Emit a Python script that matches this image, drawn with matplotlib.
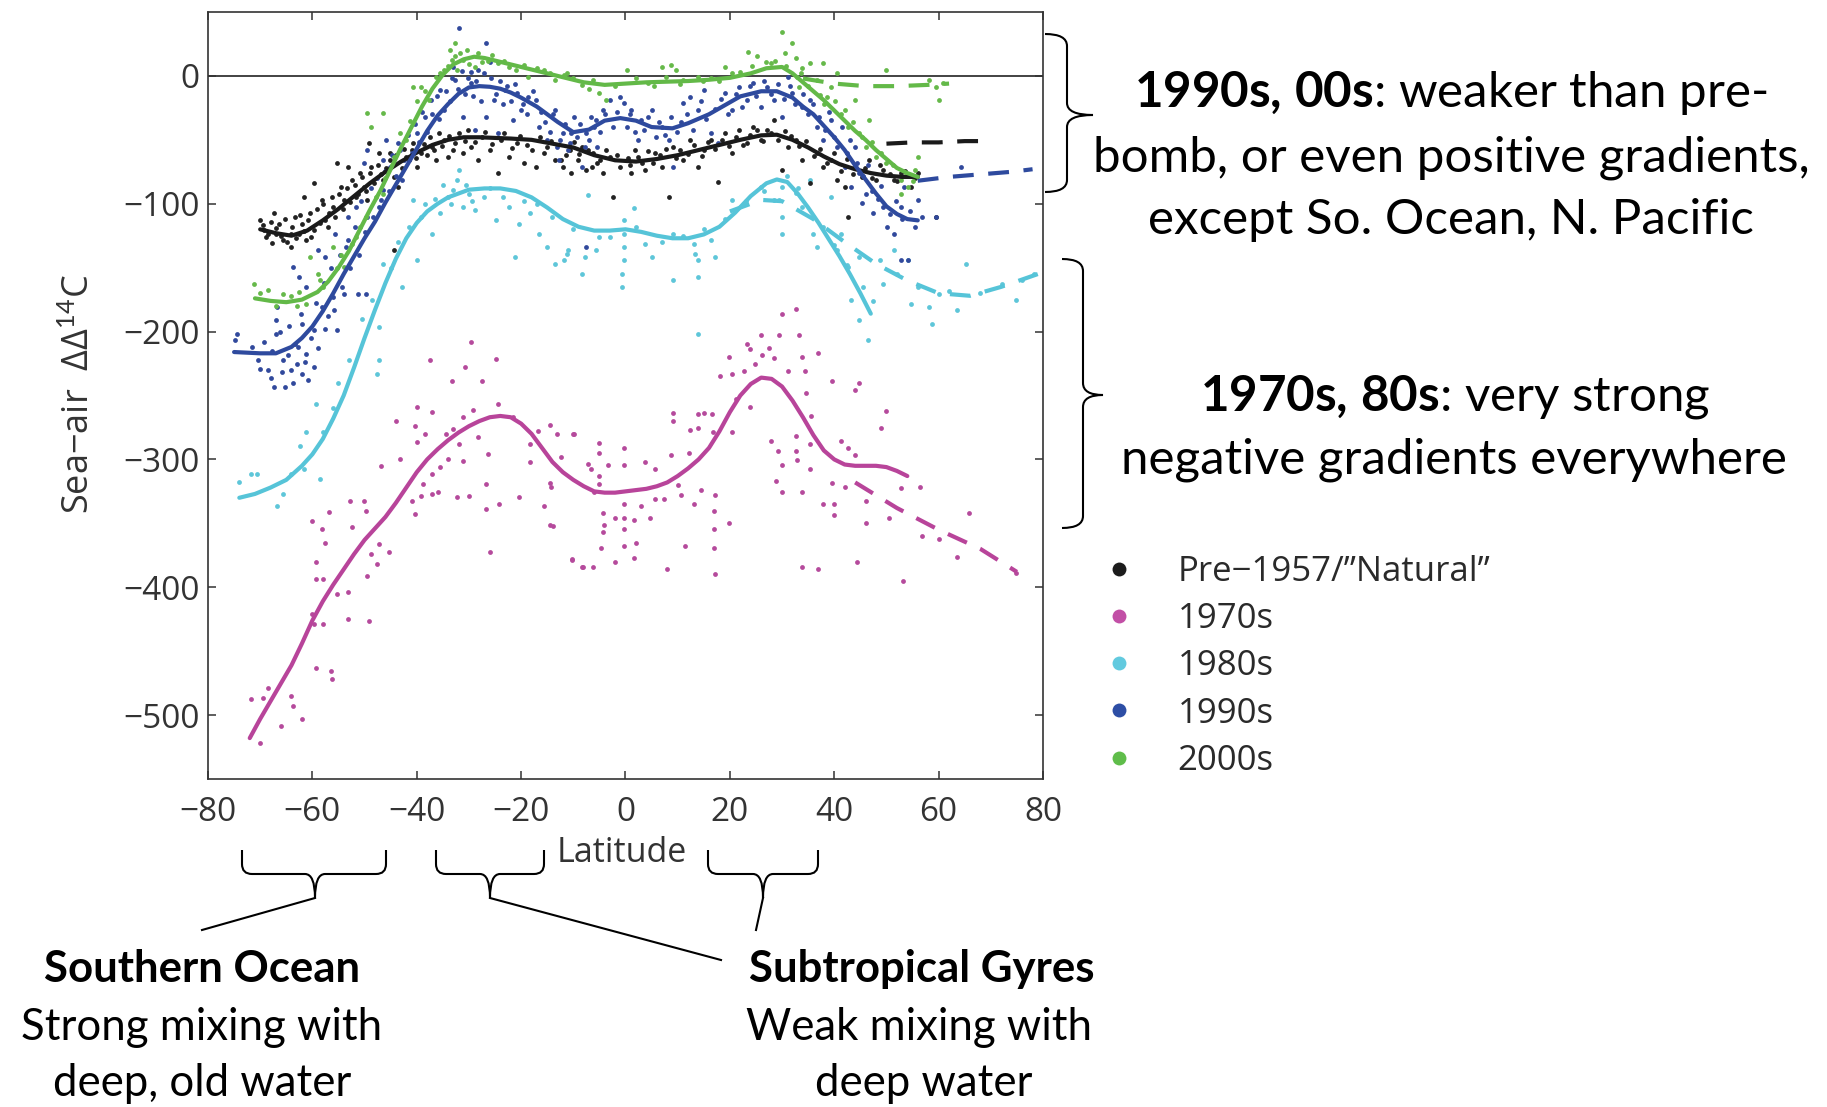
import numpy as np
import matplotlib
matplotlib.use("Agg")
import matplotlib.pyplot as plt
from matplotlib.path import Path
from matplotlib.patches import PathPatch
from matplotlib.lines import Line2D

plt.rcParams['mathtext.fontset'] = 'custom'
plt.rcParams['mathtext.rm'] = 'Lato'
plt.rcParams['mathtext.it'] = 'Lato:italic'
plt.rcParams['mathtext.bf'] = 'Lato:bold'

# ---------------- data ----------------
series_names = ['Pre\u22121957/\u201dNatural\u201d', '1970s', '1980s', '1990s', '2000s']
legend_colors = ['#1c1c1c', '#c24fa6', '#62cadf', '#2d4ea5', '#5fbd4a']
x_ticks = [-80, -60, -40, -20, 0, 20, 40, 60, 80]
y_ticks = [0, -100, -200, -300, -400, -500]

# smoothed curves (latitude, sea-air DD14C)
black_curve_lat = [-70, -67, -64, -61, -58, -55, -52, -49, -46, -43, -40, -37, -34, -31, -28, -25, -22, -18, -14,
                   -10, -6, -2, 2, 6, 10, 14, 18, 22, 26, 29, 32, 35, 38, 41, 44, 47, 50, 53, 56]
black_curve_val = [-120, -123, -125, -121, -113, -104, -94, -84, -75, -67, -60, -54, -50, -48, -48, -48.5, -49, -50,
                   -53, -56, -62, -66, -67, -65, -62, -58, -54, -50, -46.5, -46, -50, -56, -63, -69, -73, -76, -78,
                   -79, -79]
black_dash_lat = [50, 55, 60, 65, 70]
black_dash_val = [-53, -52, -52, -51, -51]

m70_curve_lat = [-72, -70, -68, -66, -64, -62, -60, -58, -56, -54, -52, -50, -48, -46, -44, -42, -40, -38, -36, -34,
                 -32, -30, -28, -26, -24, -22, -20, -18, -16, -14, -12, -10, -8, -6, -4, -2, 0, 2, 4, 6, 8, 10, 12,
                 14, 16, 18, 20, 22, 24, 26, 28, 30, 32, 34, 36, 38, 40, 42, 44, 46, 48, 50, 52, 54]
m70_curve_val = [-518, -503, -489, -475, -461, -444, -426, -411, -398, -386, -374, -363, -354, -345, -334, -322, -310,
                 -300, -292, -285, -279, -274, -270, -267, -266, -267, -272, -280, -291, -302, -310, -316, -321, -325,
                 -326, -326, -325, -324, -323, -321, -318, -313, -307, -300, -291, -278, -263, -250, -241, -236, -237,
                 -243, -254, -267, -281, -293, -300, -304, -305, -305, -305, -306, -309, -313]
m70_dash_lat = [44, 52, 60, 68, 75]
m70_dash_val = [-318, -338, -355, -370, -388]

c80_curve_lat = [-74, -71, -68, -65, -62, -60, -58, -56, -54, -52, -50, -48, -46, -44, -42, -40, -38, -36, -34, -32,
                 -30, -27, -24, -21, -18, -15, -12, -9, -6, -3, 0, 3, 6, 9, 12, 15, 18, 21, 24, 27, 29, 31, 33, 35,
                 37, 39, 41, 43, 45, 47]
c80_curve_val = [-330, -327, -322, -316, -305, -296, -284, -268, -250, -228, -205, -183, -162, -143, -127, -115, -106,
                 -100, -95, -92, -89, -88, -88, -90, -95, -103, -112, -118, -121, -121, -120, -122, -125, -127, -127,
                 -124, -118, -107, -94, -84, -81, -83, -92, -103, -115, -128, -141, -155, -170, -186]
c80_dash_lat = [20, 26, 30, 36, 42, 48, 54, 60, 66, 72, 79]
c80_dash_val = [-106, -97, -98, -112, -130, -147, -160, -170, -172, -165, -155]

b90_curve_lat = [-75, -70, -67, -64, -62, -60, -58, -56, -54, -52, -50, -48, -46, -44, -42, -40, -38, -36, -34, -32,
                 -30, -28, -26, -24, -22, -20, -17, -13, -10, -7, -4, -1, 2, 5, 9, 12, 16, 19, 22, 26, 29, 32, 34,
                 36, 38, 40, 42, 44, 46, 48, 50, 52, 54, 56]
b90_curve_val = [-216, -217, -217, -212, -205, -196, -184, -170, -155, -141, -127, -114, -99, -85, -71, -57, -43, -31,
                 -22, -14, -9, -8, -8.5, -10, -13, -17, -24, -36, -44, -42, -35, -33, -35, -40, -41, -37, -30, -23,
                 -16, -12, -12, -17, -24, -30, -39, -48, -58, -70, -81, -92, -102, -108, -112, -113]
b90_dash_lat = [56, 62, 68, 74, 78]
b90_dash_val = [-82, -79, -77, -75, -73]

g00_curve_lat = [-71, -68, -65, -62, -59, -57, -55, -53, -51, -49, -47, -45, -43, -41, -39, -37, -35, -33, -31, -29,
                 -27, -24, -20, -16, -12, -8, -4, 0, 4, 8, 12, 16, 20, 24, 27, 30, 32, 34, 36, 38, 40, 42, 44, 46,
                 48, 50, 52, 54, 56]
g00_curve_val = [-174, -176, -177, -175, -169, -161, -150, -137, -121, -105, -90, -73, -56, -40, -24, -10, 1, 9, 13,
                 15, 14, 11, 7, 3, -1, -5, -7, -6, -5, -4.5, -4, -3, -1.5, 2, 6, 7, 2, -5, -12, -19, -27, -35, -43,
                 -50, -58, -65, -72, -76, -79]
g00_dash_lat = [34, 40, 46, 52, 58, 62]
g00_dash_val = [-2, -6, -8, -8, -7, -6]

# observations (latitude, value)
black_pts = [(-70, -112.9), (-69.3, -120.7), (-68.5, -123.3), (-67.4, -107.6), (-67.05, -123.3), (-66.3, -115.5),
             (-65.6, -128.5), (-64.1, -123.3), (-64.1, -133.7), (-63.4, -110.3), (-62.6, -123.3), (-61.9, -115.5),
             (-61.55, -94.6), (-61.2, -128.5), (-60.45, -107.6), (-59.7, -84.1), (-59.7, -120.7), (-58.25, -97.2),
             (-57.5, -112.9), (-56.8, -107.6), (-56.05, -102.4), (-55.3, -68.4), (-54.6, -86.7), (-53.85, -97.2),
             (-53.1, -71.1), (-52.4, -81.5), (-51.65, -94.6), (-50.9, -76.3), (-50.2, -86.7), (-49.45, -97.2),
             (-49.1, -52.8), (-48.7, -71.1), (-47.25, -60.6), (-46.5, -81.5), (-45.05, -65.8), (-44.3, -78.9),
             (-44.3, -136.4), (-42.1, -63.2), (-40.65, -52.8), (-39.9, -71.1), (-39.2, -60.6), (-37, -55.4),
             (-36.3, -65.8), (-34.8, -50.2), (-34, -63.2), (-32.6, -52.8), (-31.9, -44.9), (-31.1, -60.6),
             (-29.6, -55.4), (-28.2, -65.8), (-27.45, -47.5), (-26, -58), (-24.5, -76.3), (-23.8, -50.2),
             (-22.3, -63.2), (-20.8, -52.8), (-19.4, -68.4), (-17.9, -58), (-17.2, -71.1), (-15, -55.4),
             (-13.5, -65.8), (-12.05, -71.1), (-10.6, -58), (-9.1, -65.8), (-7.65, -73.7), (-6.2, -60.6),
             (-5.45, -68.4), (-43.6, -86.7), (-12.45, -65.8), (-10.4, -76.3), (-8.4, -55.4), (-6.4, -71.1),
             (-4.4, -76.3), (-3.05, -63.2), (-2.4, -94.6), (-1, -71.1), (1, -76.3), (2.3, -63.2), (3.7, -73.7),
             (5.7, -60.6), (7.0, -71.1), (8.4, -94.6), (9.05, -55.4), (11.1, -65.8), (12.4, -50.2), (13.8, -71.1),
             (15.1, -58), (16.4, -50.2), (17.8, -82.8), (19.1, -44.9), (20.5, -60.6), (21.8, -42.3), (23.2, -52.8),
             (24.5, -39.7), (25.9, -50.2), (27.2, -42.3), (28.5, -34.5), (29.2, -50.2), (29.9, -73.7), (31.2, -55.4),
             (32.6, -50.2), (33.9, -65.8), (35.3, -84.1), (36.6, -60.6), (37.9, -71.1), (39.3, -65.8), (40.6, -81.5),
             (42, -86.7), (42.7, -110.3), (44, -71.1), (45.3, -78.9), (46.7, -65.8), (48, -81.5), (49.4, -73.7),
             (51.4, -81.5), (52.7, -76.3), (54.8, -86.7), (59.5, -110.3),
             (-69.5, -117), (-68.8, -126), (-68, -114), (-67.7, -131), (-66.9, -119), (-66, -125), (-65.3, -112),
             (-64.8, -130), (-63.9, -118), (-63.2, -127), (-62.3, -109), (-61.7, -121), (-60.9, -113), (-60.2, -126),
             (-59.2, -104), (-58.6, -115), (-57.9, -100), (-57.1, -118), (-56.3, -95), (-55.7, -110), (-54.9, -92),
             (-54.1, -104), (-53.4, -88), (-52.7, -99), (-51.9, -85), (-51.2, -92), (-50.5, -79), (-49.8, -90),
             (-48.9, -76), (-48.1, -84), (-47.5, -70), (-46.8, -77), (-45.9, -72), (-45.2, -60), (-44.6, -70),
             (-43.9, -62), (-42.9, -72), (-42.4, -57), (-41.5, -66), (-40.9, -58), (-40.2, -64), (-38.7, -53),
             (-38.1, -62), (-37.5, -48), (-36.7, -58), (-35.7, -45), (-35.1, -55), (-33.8, -47), (-33.1, -58),
             (-30.8, -51), (-30.2, -42), (-28.8, -52), (-27, -44), (-25.5, -53), (-23.2, -45), (-21.7, -56),
             (-20.2, -47), (-18.8, -54), (-16.4, -48), (-15.7, -60), (-14.2, -51), (-11.4, -62), (-9.8, -52),
             (-8.9, -61), (-7.2, -58), (-4.9, -66), (-3.8, -58), (-1.6, -62), (0.4, -64), (0.9, -70), (1.8, -58),
             (3.1, -68), (4.4, -59), (5.2, -68), (6.6, -62), (7.8, -57), (9.7, -64), (10.4, -58), (11.9, -61),
             (13.1, -54), (14.6, -63), (15.8, -52), (17.1, -57), (18.4, -50), (19.8, -55), (21.1, -48), (22.6, -54),
             (23.9, -46), (25.2, -42), (26.4, -51), (27.9, -45), (30.5, -43), (31.8, -47), (33.2, -55), (34.6, -51),
             (36.1, -63), (37.3, -57), (38.6, -68), (40, -60), (41.3, -74), (42.4, -65), (43.6, -77), (45.9, -72),
             (47.3, -80), (48.7, -70), (50.7, -77), (52.1, -82), (53.5, -74), (55.4, -80), (56, -76)]

m70_pts = [(-71.8, -487.7), (-69.4, -486.4), (-68.5, -478.6), (-70, -521.7), (-66, -508.6), (-64.1, -485),
           (-63.7, -493), (-61.9, -503.4), (-59.35, -462.9), (-56.4, -465.5), (-56.2, -472), (-59.7, -429),
           (-57.9, -429), (-60.1, -421), (-59.35, -393.7), (-57.9, -393.7), (-59.35, -380.6), (-58.25, -354.5),
           (-60.1, -348), (-57.5, -365), (-56.8, -341.4), (-55.3, -405.4), (-53.1, -404.1), (-53.1, -425),
           (-49.1, -426.3), (-52.7, -332.3), (-50.2, -332.3), (-52.5, -353.2), (-49.8, -340.1), (-49.6, -391),
           (-48.7, -374.1), (-47.6, -381.9), (-47.25, -366.2), (-46.9, -304.8), (-45.4, -372.8), (-43.2, -299.6),
           (-44, -269.6), (-41, -332.3), (-40.3, -342.7), (-39.9, -259.1), (-40.3, -273.5), (-39.9, -286.6),
           (-38.8, -319.2), (-39.2, -328.4), (-37, -327.1), (-35.9, -325.7), (-35.5, -306.1), (-37, -311.4),
           (-34.05, -299.6), (-37, -263), (-38.5, -280), (-34.4, -280), (-33, -276), (-32.2, -329.7), (-30, -328.4),
           (-31.1, -300.9), (-31.9, -287.9), (-31.1, -267), (-29.3, -261.7), (-28.2, -282.6), (-26.35, -295.7),
           (-26.7, -319.2), (-26.7, -338.8), (-26, -372.8), (-24.2, -334.9), (-24.5, -256.5), (-21.6, -267),
           (-20.5, -329.7), (-18.3, -287.9), (-18.3, -302.2), (-16.8, -277.4), (-15.7, -336.2), (-14.3, -321.8),
           (-13.9, -351.9), (-12.4, -298.3), (-9.85, -280), (-10.2, -378), (-8.4, -384.5), (-6.2, -384.5),
           (-6.6, -307.5), (-5.1, -319.2), (-14.5, -273.1), (-14.5, -318.4), (-13.1, -279.9), (-10.1, -279.9),
           (-14.5, -351.4), (-10.3, -378.9), (-8.1, -384.4), (-7.1, -303.3), (-5.1, -286.8), (-5.1, -295.1),
           (-3.4, -304.7), (-5.1, -312.9), (-6.1, -325.3), (-4.4, -341.8), (-4.05, -351.4), (-4.4, -356.9),
           (-4.7, -369.3), (-2.0, -345.9), (-2.0, -380.3), (-0.36, -291), (-0.2, -304.7), (-0.2, -335),
           (-0.2, -345.9), (-0.2, -354.2), (-0.36, -367.9), (1.66, -347.3), (2.0, -365.2), (1.66, -377.5),
           (3.7, -302), (4.7, -345.9), (3.0, -336.3), (5.7, -330.8), (5.7, -307.4), (7.4, -330.8), (8.0, -385.8),
           (8.7, -296.4), (9.05, -263.5), (9.05, -270.3), (10.06, -319.8), (10.7, -328.1), (11.4, -367.9),
           (12.1, -295.1), (12.4, -277.2), (13.8, -275.8), (13.8, -264.8), (15.1, -263.5), (13.1, -334.9),
           (14.4, -323.9), (16.5, -264.8), (16.8, -278.6), (17.1, -328.1), (17.0, -340.4), (17.0, -354.2),
           (17.0, -369.3), (17.1, -389.9), (19.8, -350), (18.1, -234.6), (19.8, -219.5), (20.5, -233.2),
           (21.1, -252.5), (20.5, -278.6), (23.2, -209.9), (22.8, -230.5), (23.8, -214), (24.8, -225), (25.9, -203),
           (26.2, -218.1), (27.5, -212.6), (28.5, -220.9), (29.9, -186.5), (29.5, -203), (32.6, -182.4),
           (31.2, -230.5), (33.2, -203), (33.9, -219.5), (34.3, -230.5), (34.6, -248.3), (35.6, -266.2),
           (36.9, -216.7), (23.8, -259.3), (27.9, -285.5), (29.2, -293.7), (29.9, -304.7), (28.9, -317),
           (29.9, -325.3), (32.6, -293.7), (32.9, -300.6), (32.6, -281.3), (33.9, -325.3), (35.3, -307.4),
           (35.3, -288.2), (33.9, -384.4), (36.9, -385.8), (37.9, -334.9), (39.6, -318.4), (39.9, -334.9),
           (39.9, -343.2), (39.6, -238.7), (41.3, -285.5), (42.7, -291), (44, -296.4), (44, -245.6), (44.7, -240.1),
           (42, -321.2), (44.3, -380.3), (46, -350), (46, -332.2), (49.0, -275.8), (50.0, -262.1), (50.4, -345.9),
           (52.7, -322.6), (53.1, -395.4), (56.4, -321.2), (56.8, -359.7), (60.1, -362.4), (63.5, -376.2),
           (65.8, -341.8), (74.9, -388.5), (-29.6, -208), (-37.4, -222.6), (-24.9, -221.3), (-30.7, -227.8),
           (-33.3, -238.3), (-27.45, -238.3)]

c80_pts = [(-11.8, -144.2), (-11.1, -136.4), (-7.8, -141.6), (-5.7, -136.4), (-5.1, -125.9), (-7.1, -93.3),
           (-0.36, -112.9), (-0.36, -123.3), (-0.36, -133.7), (-0.36, -144.2), (-0.7, -154.6), (-0.7, -165.1),
           (3.7, -131.1), (5.0, -141.6), (1.7, -103.7), (9.05, -159.9), (9.05, -123.3), (13.1, -131.1),
           (13.8, -144.2), (13.8, -157.3), (13.4, -139), (16.4, -128.5), (17.1, -141.6), (13.8, -201.7),
           (20.5, -97.2), (25.9, -86.7), (28.5, -97.2), (29.5, -97.2), (29.9, -110.3), (29.9, -123.3), (29.9, -86.7),
           (32.6, -91.9), (33.9, -102.4), (35.9, -110.3), (35.9, -123.3), (36.6, -133.7), (39.3, -94.6),
           (35.3, -81.5), (40.6, -136.4), (41.3, -123.3), (42.7, -149.4), (44.7, -141.6), (43.3, -175.5),
           (44.7, -191.2), (46.4, -206.9), (48.7, -144.2), (49.4, -162.5), (51.4, -136.4), (54.1, -144.2),
           (54.8, -178.2), (58.1, -180.8), (58.8, -193.8), (60.1, -170.3), (63.5, -183.4), (65.2, -146.8),
           (74.9, -175.5), (78.3, -154.6), (72.2, -162.5), (-47.3, -222.6), (-47.6, -233), (-47.3, -196.4),
           (-46.5, -146.8), (-42.9, -165.1), (-39.9, -144.2), (-40.7, -97.2), (-39.2, -110.3), (-37, -123.3),
           (-35.5, -107.6), (-34.05, -94.6), (-33, -89.3), (-32.2, -81.5), (-31.9, -73.7), (-31.1, -102.4),
           (-30, -92), (-28.9, -105), (-27.1, -94.6), (-24.9, -112.9), (-22.3, -102.4), (-20.5, -115.5),
           (-18.3, -107.6), (-16.5, -123.3), (-15, -133.7), (-13.5, -146.8), (-11.3, -139), (-8.4, -154.6),
           (-21.2, -141.6), (-74, -317.9), (-71.8, -311.4), (-70.7, -311.4), (-66.7, -336.2), (-65.6, -327.1),
           (-64.1, -311.4), (-61.6, -307.5), (-62.3, -289.2), (-61.2, -278.7), (-59.35, -256.5), (-58.6, -315.3),
           (-57.9, -278.7),
           (-56, -260), (-55, -240), (-53, -222), (-50.5, -190), (-48.5, -175), (-45, -150), (-43.5, -130),
           (-41.5, -118), (-38.5, -100), (-36.5, -96), (-35, -85), (-33.5, -100), (-30.5, -85), (-29.5, -98),
           (-26, -88), (-23.5, -95), (-19.5, -98), (-17, -100), (-14, -110), (-10, -120), (-3, -126), (2, -118),
           (7, -130), (11, -125), (15, -120), (19, -112), (23, -98), (26.5, -90), (31, -78), (33, -88),
           (37.8, -118), (40, -132), (42.5, -148), (45.5, -165), (47.5, -176), (52, -155), (56, -165), (62, -168),
           (68, -170), (76, -160)]

b90_pts = [(-74.75, -206.9), (-74.4, -201.7), (-70, -229.1), (-68.5, -230.4), (-67.4, -243.5), (-67.05, -191.2),
           (-67.05, -201.7), (-66.7, -180.8), (-65.6, -222.6), (-65.2, -243.5), (-64.1, -230.4), (-63.4, -209.5),
           (-63, -225.2), (-61.9, -233), (-61.2, -217.3), (-61.9, -193.8), (-60.8, -238.2), (-59.7, -227.8),
           (-59.7, -199.1), (-57.5, -197.8), (-58.25, -180.8), (-56.05, -172.9), (-55.3, -199.1), (-53.85, -170.3),
           (-51.3, -170.3), (-49.8, -170.3), (-63.75, -149.4), (-62.6, -157.3), (-61.2, -165.1), (-57.5, -141.6),
           (-55.7, -123.3), (-59, -136.4), (-53.5, -133.7), (-51.65, -102.4), (-53.1, -110.3), (-49.45, -110.3),
           (-47.25, -102.4), (-46.5, -89.3), (-50.2, -68.4), (-49.45, -58), (-46.5, -65.8), (-45.05, -71.1),
           (-42.85, -81.5), (-45.8, -50.2), (-43.6, -52.8), (-39.9, -44.9), (-38.45, -31.9), (-37.35, -18.8),
           (-34.8, -26.6), (-35.5, -11), (-32.6, -3.1), (-33, 7.3), (-31.9, 37.4), (-29.65, 3.4), (-29.65, -5.7),
           (-28.2, 4.7), (-26.7, 25.6), (-26, 11.2), (-25.25, -18.8), (-26.7, -31.9), (-31.1, -31.9), (-28.9, -42.3),
           (-24.5, -44.9), (-21.6, -34.5), (-20.1, -26.6), (-18.65, -16.2), (-17.2, -18.8), (-16.5, -39.7),
           (-15, -50.2), (-13.5, -26.6), (-12.05, -44.9), (-10.6, -52.8), (-9.85, -31.9), (-7.65, -44.9),
           (-7.65, -133.7), (-5.45, -55.4), (-6.55, -31.9), (-23.1, -11), (-20.8, -13.6), (-8.4, -71.1),
           (-12.8, -65.8), (-13.1, -55.4), (-10.4, -44.9), (-7.75, -55.4), (-5.7, -34.5), (-4.4, -26.6),
           (-3.0, -18.8), (-1.0, -16.2), (-0.36, -21.4), (1.0, -26.6), (2.3, -50.2), (3.0, -34.5), (5.0, -26.6),
           (7.0, -39.7), (8.4, -50.2), (9.05, -71.1), (11.1, -21.4), (12.4, -16.2), (13.8, -26.6), (15.1, -11),
           (16.4, -44.9), (17.8, -52.8), (19.1, -13.6), (20.5, -26.6), (21.8, -8.4), (23.2, -18.8), (24.5, -5.7),
           (25.9, -24), (27.2, -8.4), (28.5, -18.8), (29.9, -31.9), (31.2, -0.5), (31.9, -13.6), (33.9, -24),
           (35.3, -18.8), (36.6, -39.7), (37.9, -50.2), (39.3, -34.5), (40.6, -55.4), (42, -71.1), (43.3, -86.7),
           (44, -55.4), (44.7, -76.3), (45.3, -99.8), (46, -92), (47.4, -107.6), (49.4, -102.4), (50.1, -118),
           (51.4, -123.3), (52.7, -102.4), (53.4, -86.7), (56.1, -97.2), (56.8, -110.3), (59.5, -110.3),
           (52.7, -144.2), (54.1, -144.2), (64.2, -71.1),
           (-71.5, -212), (-70.5, -222), (-69.2, -208), (-68, -236), (-67.7, -215), (-66.2, -200), (-65.9, -232),
           (-64.6, -218), (-64.4, -196), (-63.7, -240), (-62.8, -212), (-62.2, -186), (-61.5, -224), (-60.3, -205),
           (-59.4, -178), (-58.9, -213), (-57.8, -162), (-57.1, -188), (-56.4, -150), (-55.9, -183), (-54.8, -140),
           (-54.3, -165), (-53.2, -128), (-52.7, -150), (-51.8, -118), (-51, -140), (-50.6, -98), (-49.9, -122),
           (-48.8, -88), (-48.3, -110), (-47.6, -80), (-46.9, -97), (-46.1, -74), (-45.4, -90), (-44.7, -62),
           (-44, -78), (-43.2, -58), (-42.4, -66), (-41.6, -46), (-41, -60), (-40.4, -38), (-39.6, -52),
           (-38.9, -28), (-38.1, -44), (-37, -30), (-36.2, -16), (-35.8, -34), (-34.4, -12), (-33.6, -20),
           (-33.2, -2), (-32, -10), (-31.4, 4), (-30.7, -14), (-30.1, -2), (-29.2, -16), (-28.6, -4), (-27.6, -20),
           (-27.2, 2), (-25.8, -2), (-24.9, -14), (-24, -4), (-23.5, -22), (-22.7, -8), (-21.9, -20), (-21.2, -6),
           (-19.6, -22), (-18.9, -30), (-17.7, -12), (-16.1, -28), (-15.4, -36), (-14.4, -44), (-13.9, -30),
           (-12.6, -50), (-11.5, -38), (-11, -58), (-9.2, -48), (-8.7, -38), (-6.9, -50), (-6, -40), (-4.9, -44),
           (-3.9, -30), (-2.4, -40), (-1.6, -28), (0.3, -40), (0.8, -30), (1.9, -44), (3.6, -42), (4.4, -32),
           (5.8, -48), (6.4, -36), (7.6, -46), (8.8, -32), (9.9, -44), (10.6, -36), (11.8, -30), (12.9, -42),
           (14.4, -20), (15.5, -34), (17.2, -26), (18.3, -18), (19.7, -30), (21.2, -14), (22.4, -24), (23.8, -8),
           (25, -16), (26.5, -4), (27.8, -14), (29.2, -6), (30.4, -18), (31.6, -8), (32.4, -22), (34.1, -14),
           (35, -30), (35.9, -22), (37.1, -32), (38.2, -42), (39, -28), (40, -48), (41.4, -40), (42.4, -60),
           (43, -50), (44.3, -68), (45.6, -78), (46.5, -70), (47.2, -90), (48.4, -96), (49, -86), (50.6, -108),
           (51.9, -98), (53, -112), (54.6, -106), (55.5, -118)]

g00_pts = [(-71.1, -162.5), (-68.5, -167.7), (-65.6, -170.3), (-62.6, -169), (-61.2, -178.2), (-59, -154.6),
           (-60.45, -141.6), (-57.9, -165.1), (-56.05, -133.7), (-53.85, -149.4), (-52.4, -131.1), (-50.9, -118),
           (-49.45, -29.3), (-48.7, -39.7), (-46.5, -29.3), (-46.5, -92), (-44.3, -63.2), (-42.1, -50.2),
           (-40.65, -8.4), (-39.2, -8.4), (-37.7, -18.8), (-36.3, -0.5), (-34.8, 4.7), (-33.3, 12.5), (-32.6, 25.6),
           (-32.6, 15.2), (-32.2, 4.7), (-31.1, 12.5), (-30.4, 20.4), (-28.9, 7.3), (-27.45, 11.2), (-24.5, 9.9),
           (-22.3, 7.3), (-19.4, 8.6), (-18.65, -0.5), (-15.7, 4.7), (-13.5, -3.1), (-11.3, 2.1), (-8.4, -7),
           (-6.2, -3.1), (-11.8, 0.8), (-5.1, -13.6), (-3.7, -18.8), (0.3, 4.7), (4.35, -5.7), (7, 7.3), (7.7, -0.5),
           (8.7, 8.6), (9.7, 4.7), (11.1, -3.1), (13.8, -0.5), (16.4, -1.8), (19.1, 7.3), (20.5, 2.1), (23.5, 19.1),
           (25.2, 15.2), (26.9, 11.2), (27.9, 9.9), (29.9, 34.7), (30.6, 17.8), (31.9, 25.6), (32.6, 13.8),
           (32.9, -0.5), (33.2, -8.4), (33.9, 6), (35.3, 9.9), (36.6, -3.1), (37.9, 9.9), (38.6, -16.2),
           (39.3, -8.4), (40.6, 2.1), (42, -26.6), (42.7, -39.7), (44, -18.8), (44.7, -44.9), (46, -55.4),
           (46.7, -34.5), (50.0, 4.7), (48, -63.2), (50.0, -68.4), (52.7, -81.5), (54.1, -86.7), (55.4, -73.7),
           (56.1, -63.2), (52.7, -92), (58.1, -3.1), (59.5, -8.4), (60.1, -18.8), (60.8, -5.7),
           (-70, -170), (-67, -180), (-64, -172), (-63, -180), (-58.5, -160), (-55.2, -150), (-54.5, -140),
           (-51.7, -126), (-49.8, -110), (-47.8, -95), (-46, -80), (-44.7, -70), (-43.2, -45), (-41.2, -35),
           (-40, -20), (-38.4, -12), (-35.6, 2), (-34, 8), (-33.7, 20), (-31.8, 18), (-30, 9), (-28.2, 18),
           (-26.3, 12), (-25.5, 16), (-23.2, 12), (-21, 5), (-17, 6), (-14.5, 2), (-10, -2), (-7, -10), (-2, -8),
           (2, -2), (5.5, -8), (10.5, -6), (14.8, -4), (18, -4), (22, 3), (24.3, 8), (28.7, 12), (30.8, 8),
           (33.6, 2), (35, -8), (37.2, -15), (38, -22), (40.1, -20), (41.2, -30), (43.5, -36), (45.3, -48),
           (47.2, -52), (49, -60), (51.3, -70), (53.6, -78), (55, -82)]

# ---------------- figure ----------------
W, H = 1827, 1107
fig = plt.figure(figsize=(W / 100, H / 100), dpi=100)
fig.patch.set_facecolor('white')


def fxy(x, y):
    return (x / W, 1 - y / H)


ax = fig.add_axes([208 / W, 1 - 779 / H, (1043 - 208) / W, (779 - 12) / H])

line_cols = ['#1a1a1a', '#b8449a', '#56c4d8', '#2e4a9e', '#63b948']
pt_cols = ['#222222', '#b54a9c', '#5ec6d9', '#31499c', '#66b94a']

pts_all = [black_pts, m70_pts, c80_pts, b90_pts, g00_pts]
curves = [(black_curve_lat, black_curve_val), (m70_curve_lat, m70_curve_val), (c80_curve_lat, c80_curve_val),
          (b90_curve_lat, b90_curve_val), (g00_curve_lat, g00_curve_val)]
dashes = [(black_dash_lat, black_dash_val), (m70_dash_lat, m70_dash_val), (c80_dash_lat, c80_dash_val),
          (b90_dash_lat, b90_dash_val), (g00_dash_lat, g00_dash_val)]

for order in [1, 2, 0, 3, 4]:
    p = np.array(pts_all[order])
    ax.scatter(p[:, 0], p[:, 1], s=12, color=pt_cols[order], linewidths=0, zorder=2)

for order in [1, 2, 0, 3, 4]:
    ax.plot(dashes[order][0], dashes[order][1], color=line_cols[order], lw=3.0, dashes=(5, 3.5),
            solid_capstyle='butt', zorder=3)
    ax.plot(curves[order][0], curves[order][1], color=line_cols[order], lw=3.0, solid_capstyle='round',
            solid_joinstyle='round', zorder=4)

ax.axhline(0, color='#222222', lw=1.2, zorder=1)

ax.set_xlim(-80, 80)
ax.set_ylim(-550, 50)
ax.set_xticks(x_ticks)
ax.set_yticks(y_ticks)
ax.set_xticklabels([str(v).replace('-', '\u2212') for v in x_ticks])
ax.set_yticklabels([str(v).replace('-', '\u2212') for v in y_ticks])
ax.tick_params(direction='in', length=6, width=1.1, color='#333333', top=True, right=True,
               labelsize=24, labelcolor='#333333')
ax.tick_params(axis='x', pad=12)
ax.tick_params(axis='y', pad=6)
for lab in ax.get_xticklabels() + ax.get_yticklabels():
    lab.set_fontfamily('Open Sans')
for sp in ax.spines.values():
    sp.set_linewidth(1.2)
    sp.set_color('#333333')

fig.text(*fxy(622, 853), 'Latitude', ha='center', va='center', fontsize=24.5, color='#333333',
         family='Open Sans')
fig.text(*fxy(80, 394), 'Sea\u2212air  \u0394\u0394$^{14}$C', ha='center', va='center', fontsize=26,
         color='#333333', family='Open Sans', rotation=90)

# legend
handles = [Line2D([], [], linestyle='none', marker='o', markersize=10, markerfacecolor=c, markeredgewidth=0)
           for c in legend_colors]
leg = fig.legend(handles, series_names, loc='upper left', bbox_to_anchor=fxy(1102, 555), frameon=False,
                 prop={'family': 'Open Sans', 'size': 25}, handlelength=1.0, handletextpad=1.17,
                 labelspacing=0.38, borderpad=0, borderaxespad=0)
for t in leg.get_texts():
    t.set_color('#2a2a2a')

# annotation texts
rfont = dict(family='Lato', fontsize=35.5, color='black', ha='center', va='center')
bfont = dict(family='Lato', fontsize=31.5, color='black', ha='center', va='center')
fig.text(*fxy(1451, 93), r'$\mathbf{1990s{,}\ 00s}$: weaker than pre-', **rfont)
fig.text(*fxy(1451, 158), 'bomb, or even positive gradients,', **rfont)
fig.text(*fxy(1451, 220), 'except So. Ocean, N. Pacific', **rfont)
fig.text(*fxy(1455, 397), r'$\mathbf{1970s{,}\ 80s}$: very strong', **rfont)
fig.text(*fxy(1454, 460), 'negative gradients everywhere', **rfont)

fig.text(*fxy(202, 969), 'Southern Ocean', fontweight='bold', **bfont)
fig.text(*fxy(202, 1028), 'Strong mixing with', **bfont)
fig.text(*fxy(202, 1084), 'deep, old water', **bfont)
fig.text(*fxy(922, 969), 'Subtropical Gyres', fontweight='bold', **bfont)
fig.text(*fxy(919, 1028), 'Weak mixing with', **bfont)
fig.text(*fxy(924, 1084), 'deep water', **bfont)


# braces
def add_path(pts_codes):
    verts = [fxy(x, y) for (x, y), _ in pts_codes]
    codes = [c for _, c in pts_codes]
    fig.add_artist(PathPatch(Path(verts, codes), transform=fig.transFigure, fill=False, lw=1.5,
                             edgecolor='black'))


def right_brace(xl, xv, xt, y0, ym, y1, r=12):
    M, L, C = Path.MOVETO, Path.LINETO, Path.CURVE3
    add_path([((xl, y0), M), ((xv, y0), C), ((xv, y0 + r), C), ((xv, ym - r), L), ((xv, ym), C),
              ((xt, ym), C), ((xv, ym), C), ((xv, ym + r), C), ((xv, y1 - r), L), ((xv, y1), C),
              ((xl, y1), C)])


def down_brace(x0, xm, x1, ytop, yh, ytip, r=10):
    M, L, C = Path.MOVETO, Path.LINETO, Path.CURVE3
    add_path([((x0, ytop), M), ((x0, yh - r), L), ((x0, yh), C), ((x0 + r, yh), C), ((xm - r, yh), L),
              ((xm, yh), C), ((xm, ytip), C), ((xm, yh), C), ((xm + r, yh), C), ((x1 - r, yh), L),
              ((x1, yh), C), ((x1, yh - r), C), ((x1, ytop), L)])


right_brace(1045, 1067, 1093, 34, 115, 192)
right_brace(1062, 1083, 1103, 259, 395, 528)

down_brace(242, 315, 386, 850, 874, 898)
down_brace(436, 490, 544, 850, 874, 898)
down_brace(708, 763, 818, 850, 874, 898)


def seg(p0, p1):
    fig.add_artist(Line2D([fxy(*p0)[0], fxy(*p1)[0]], [fxy(*p0)[1], fxy(*p1)[1]],
                          transform=fig.transFigure, color='black', lw=1.5))


seg((315, 898), (202, 930))
seg((490, 898), (721, 960))
seg((763, 898), (756, 930))

fig.savefig('out.png', dpi=100, facecolor='white')
